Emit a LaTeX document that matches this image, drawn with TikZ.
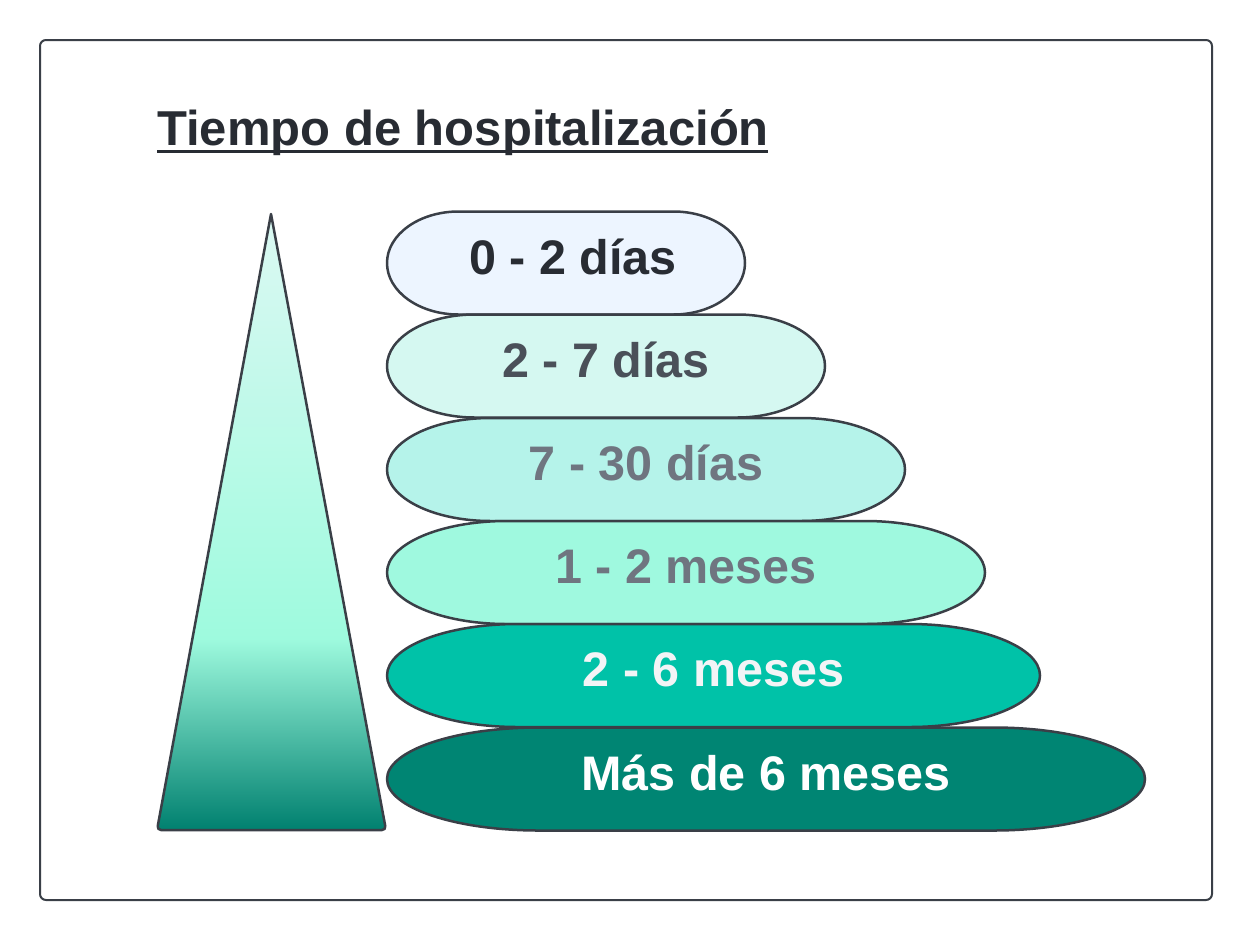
\documentclass[tikz,border=0pt]{standalone}
\usepackage{fontspec}
\setmainfont{Liberation Sans}
\definecolor{strokec}{HTML}{3A3F47}
\definecolor{titlec}{HTML}{282C33}
\definecolor{fillA}{HTML}{EDF5FF}
\definecolor{fillB}{HTML}{D5F8F1}
\definecolor{fillC}{HTML}{B5F3EA}
\definecolor{fillD}{HTML}{9FF9DF}
\definecolor{fillE}{HTML}{00C2A8}
\definecolor{fillF}{HTML}{008573}
\definecolor{textA}{HTML}{282C33}
\definecolor{textB}{HTML}{4A5059}
\definecolor{textC}{HTML}{6F7580}
\definecolor{textE}{HTML}{F3F4F6}
\definecolor{triTop}{HTML}{DCF9F3}
\definecolor{triMid}{HTML}{9EFADE}
\definecolor{triBot}{HTML}{00806F}
\pgfdeclareverticalshading{trishade}{100bp}{color(0bp)=(triBot); color(25bp)=(triBot); color(40.5bp)=(triMid); color(75bp)=(triTop); color(100bp)=(triTop)}
\tikzset{
  framestyle/.style={draw=strokec, line width=2pt, rounded corners=6pt},
  pillstyle/.style={draw=strokec, line width=2.5pt},
  lbl/.style={anchor=base, font=\fontsize{48.5}{58}\selectfont\bfseries, inner sep=0pt},
  titlestyle/.style={anchor=base west, font=\fontsize{49}{58}\selectfont\bfseries, text=titlec, inner sep=0pt}
}
\newcommand\pillshape[4]{%
  \pgfmathsetmacro\prx{0.2*(#2-#1)}%
  \pgfmathsetmacro\pxa{#1+\prx}%
  \pgfmathsetmacro\pxb{#2-\prx}%
  \draw[pillstyle, fill=#4] (\pxa,#3-51.5) -- (\pxb,#3-51.5)
    arc[start angle=-90, end angle=90, x radius=\prx, y radius=51.5]
    -- (\pxa,#3+51.5)
    arc[start angle=90, end angle=270, x radius=\prx, y radius=51.5] -- cycle;
}
\begin{document}
\begin{tikzpicture}[x=1pt, y=-1pt, line join=round]
\useasboundingbox (0,0) rectangle (1252,940);
\draw[framestyle, fill=white] (40,40) rectangle (1212,900);
% title
\node[titlestyle] (title) at (157,145) {Tiempo de hospitalización};
\draw[titlec, line width=3.5pt] (157,151.5) -- (768,151.5);
% triangle
\draw[draw=strokec, line width=2.5pt, shading=trishade]
  (271,214) [rounded corners=4pt] -- (157,830) -- (386,830) [sharp corners] -- cycle;
% pills
\pillshape{387}{745}{263}{fillA}
\pillshape{387}{825}{366}{fillB}
\pillshape{387}{905}{469.5}{fillC}
\pillshape{387}{985}{572.5}{fillD}
\pillshape{387}{1040}{675.5}{fillE}
\pillshape{387}{1145}{779}{fillF}
\node[lbl, text=textA] (t1) at (573,274) {0 - 2 días};
\node[lbl, text=textB] (t2) at (606,377) {2 - 7 días};
\node[lbl, text=textC] (t3) at (646,480.5) {7 - 30 días};
\node[lbl, text=textC] (t4) at (686,583.5) {1 - 2 meses};
\node[lbl, text=textE] (t5) at (713.5,686.5) {2 - 6 meses};
\node[lbl, text=white] (t6) at (766,790) {Más de 6 meses};
\end{tikzpicture}
\end{document}
